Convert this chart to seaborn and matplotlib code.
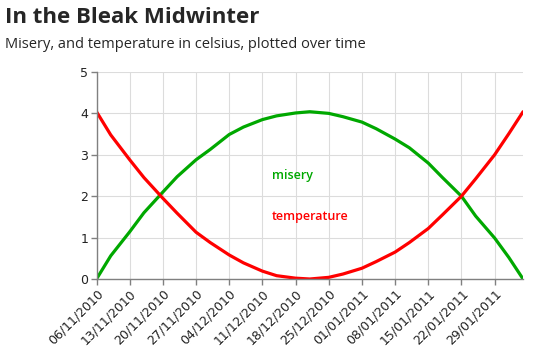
import pandas as pd
import matplotlib
matplotlib.use("Agg")
import matplotlib.pyplot as plt
import matplotlib.dates as mdates
import seaborn as sns

# days after 06/11/2010, with values
day_offsets = [0, 3, 7, 10, 14, 17, 21, 24, 28, 31, 35, 38, 42, 45,
               49, 52, 56, 59, 63, 66, 70, 73, 77, 80, 84, 87, 90]
misery = [0.00, 0.56, 1.14, 1.60, 2.10, 2.47, 2.88, 3.13, 3.49, 3.67, 3.85, 3.94, 4.01, 4.04,
          4.00, 3.92, 3.79, 3.63, 3.38, 3.17, 2.80, 2.45, 2.00, 1.52, 0.99, 0.52, 0.00]
temperature = [4.04, 3.48, 2.88, 2.45, 1.95, 1.59, 1.13, 0.88, 0.58, 0.39, 0.19, 0.08, 0.02, 0.00,
               0.04, 0.12, 0.26, 0.42, 0.65, 0.88, 1.22, 1.55, 2.00, 2.42, 3.00, 3.51, 4.04]

start = pd.Timestamp("2010-11-06")
dates = [start + pd.Timedelta(days=d) for d in day_offsets]

df = pd.DataFrame({"date": dates * 2,
                   "value": misery + temperature,
                   "series": ["misery"] * len(dates) + ["temperature"] * len(dates)})

GREEN = "#00a800"
RED = "#ff0000"

sns.set_style("whitegrid")
plt.rcParams["font.family"] = ["DejaVu Sans"]

fig = plt.figure(figsize=(5.5, 3.63), dpi=100)
ax = fig.add_axes([0.1755, 0.2314, 0.7755, 0.5703])

sns.lineplot(data=df, x="date", y="value", hue="series",
             palette={"misery": GREEN, "temperature": RED},
             linewidth=2.3, legend=False, ax=ax)

ax.set_xlim(start, start + pd.Timedelta(days=90))
ax.set_ylim(0, 5)
ax.set_yticks(range(6))
ax.set_xticks([start + pd.Timedelta(days=7 * i) for i in range(13)])
ax.xaxis.set_major_formatter(mdates.DateFormatter("%d/%m/%Y"))
ax.set_xlabel("")
ax.set_ylabel("")

ax.grid(True, color="#dcdcdc", linewidth=0.8)
for s in ["top", "right"]:
    ax.spines[s].set_visible(False)
for s in ["left", "bottom"]:
    ax.spines[s].set_color("#808080")
    ax.spines[s].set_linewidth(1.0)
ax.tick_params(axis="both", which="major", length=4, width=1, color="#808080",
               labelcolor="#222222", pad=2, bottom=True, left=True)
for lab in ax.get_xticklabels() + ax.get_yticklabels():
    lab.set_family("DejaVu Sans")
    lab.set_fontsize(9)
for lab in ax.get_xticklabels():
    lab.set_rotation(45)
    lab.set_ha("right")
    lab.set_rotation_mode("anchor")

ax.text(start + pd.Timedelta(days=37), 2.51, "misery", color=GREEN,
        fontsize=9, fontweight="semibold", family="Open Sans", va="center", ha="left")
ax.text(start + pd.Timedelta(days=37), 1.52, "temperature", color=RED,
        fontsize=9, fontweight="semibold", family="Open Sans", va="center", ha="left")

fig.text(0.009, 0.953, "In the Bleak Midwinter", fontsize=16, fontweight="bold",
         family="Open Sans", va="center", ha="left")
fig.text(0.009, 0.878, "Misery, and temperature in celsius, plotted over time", fontsize=10.5,
         family="Open Sans", va="center", ha="left")

fig.savefig("out.png", dpi=100)
